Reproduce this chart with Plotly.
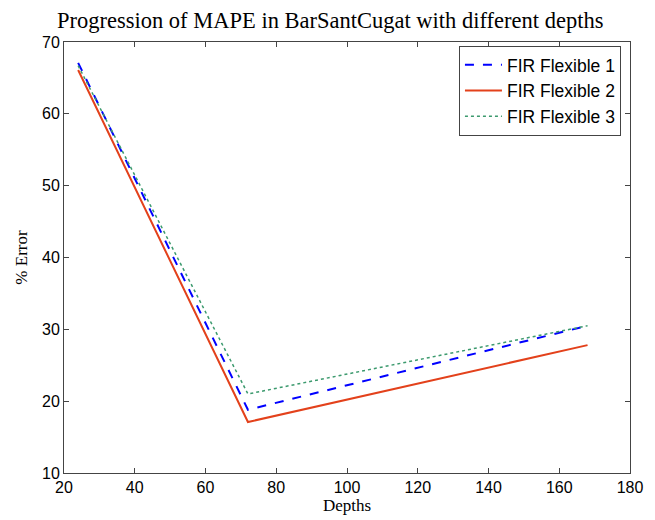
import plotly.graph_objects as go

depths = [24, 72, 168]
fir_flex_1 = [67.1, 18.8, 30.5]
fir_flex_2 = [66.1, 17.1, 27.8]
fir_flex_3 = [66.7, 21.0, 30.5]
series_names = ["FIR Flexible 1", "FIR Flexible 2", "FIR Flexible 3"]

fig = go.Figure()
fig.add_trace(go.Scatter(x=depths, y=fir_flex_1, mode="lines", name=series_names[0],
                         line=dict(color="#0000FF", width=2, dash="dash")))
fig.add_trace(go.Scatter(x=depths, y=fir_flex_2, mode="lines", name=series_names[1],
                         line=dict(color="#E3411B", width=2, dash="solid")))
fig.add_trace(go.Scatter(x=depths, y=fir_flex_3, mode="lines", name=series_names[2],
                         line=dict(color="#3C9A6E", width=1.5, dash="dot")))

axis_common = dict(showline=True, linecolor="#444444", linewidth=1, mirror="ticks",
                   ticks="inside", ticklen=5, tickcolor="#444444", showgrid=False,
                   zeroline=False, tickfont=dict(family="Liberation Sans, Arial", size=16, color="black"))

fig.update_xaxes(range=[20, 180], dtick=20, tick0=20,
                 title=dict(text="Depths", font=dict(family="Liberation Serif, Times New Roman", size=17, color="black"), standoff=0),
                 **axis_common)
fig.update_yaxes(range=[10, 70], dtick=10, tick0=10,
                 title=dict(text="% Error", font=dict(family="Liberation Serif, Times New Roman", size=17, color="black"), standoff=10),
                 **axis_common)

# The page body adds an 8px offset, so the figure is 8px smaller than the window.
fig.update_layout(
    width=647, height=512,
    margin=dict(l=55, r=25, t=34, b=44),
    paper_bgcolor="white", plot_bgcolor="white",
    title=dict(text="Progression of MAPE in BarSantCugat with different depths",
               font=dict(family="Liberation Serif, Times New Roman", size=22.5, color="black"),
               x=0.498, xanchor="center", y=0.976, yanchor="middle"),
    legend=dict(x=0.984, xanchor="right", y=0.991, yanchor="top",
                bgcolor="white", bordercolor="#444444", borderwidth=1,
                font=dict(family="Liberation Sans, Arial", size=17.5, color="black"),
                tracegroupgap=0, itemwidth=37),
    showlegend=True,
)

fig.write_html("out.html")
